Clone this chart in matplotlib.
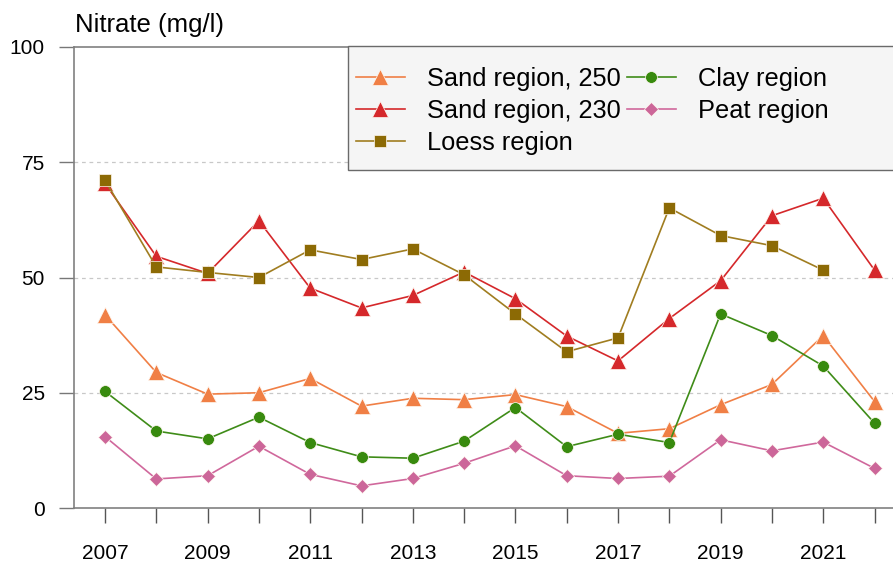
import numpy as np
import matplotlib.pyplot as plt
from matplotlib.patches import Rectangle

plt.rcParams['font.family'] = ['Liberation Sans', 'DejaVu Sans']

years = list(range(2007, 2023))
year_labels = [str(y) if y % 2 == 1 else "" for y in years]

sand250 = [41.9, 29.4, 24.7, 25.0, 28.1, 22.1, 23.8, 23.5, 24.6, 22.0, 16.2, 17.2, 22.4, 26.8, 37.4, 23.1]
sand230 = [70.4, 54.6, 50.9, 62.3, 47.7, 43.4, 46.1, 51.2, 45.4, 37.3, 31.9, 41.1, 49.3, 63.4, 67.2, 51.6]
loess = [71.1, 52.3, 51.1, 50.0, 56.0, 53.9, 56.2, 50.6, 42.1, 33.9, 36.9, 65.1, 59.1, 56.9, 51.6, np.nan]
clay = [25.3, 16.7, 15.0, 19.7, 14.2, 11.1, 10.8, 14.5, 21.8, 13.3, 16.0, 14.2, 42.1, 37.4, 30.8, 18.4]
peat = [15.5, 6.3, 7.0, 13.4, 7.3, 4.8, 6.4, 9.7, 13.5, 7.0, 6.4, 6.9, 14.8, 12.4, 14.3, 8.6]

W, H = 893, 564
fig = plt.figure(figsize=(W / 100, H / 100), dpi=100)
ax = fig.add_axes([74 / W, 1 - 508 / H, (W - 74) / W, (508 - 47) / H])

# series: (values, label, line colour, marker colour, marker, size)
series = [
    (sand250, "Sand region, 250", "#f07f45", "#f07f45", "^", 11),
    (sand230, "Sand region, 230", "#d5282b", "#d5282b", "^", 11),
    (loess, "Loess region", "#a07d20", "#8c6a05", "s", 8.5),
    (clay, "Clay region", "#3f8c18", "#388a0e", "o", 8.5),
    (peat, "Peat region", "#d0689c", "#cc6699", "D", 7.5),
]
for vals, lab, lc, mc, mk, ms in series:
    ax.plot(years, vals, color=lc, lw=1.2, marker=mk, ms=ms, mfc=mc,
            mec="#fff8f0", mew=0.5, label=lab, zorder=3)

ax.set_xlim(2006.396, 2022.36)
ax.set_ylim(0, 100)

for v in [25, 50, 75]:
    ax.axhline(v, color="#c8c8c8", lw=0.9, ls=(0, (3, 3)), zorder=1)

ax.set_yticks([0, 25, 50, 75, 100])
ax.set_xticks(years)
ax.set_xticklabels(year_labels)
ax.tick_params(axis="y", length=11, width=1, color="#777777", pad=10, labelsize=15)
ax.tick_params(axis="x", length=11, width=1, color="#555555", pad=15, labelsize=15)

ax.spines["right"].set_visible(False)
for s in ["left", "top", "bottom"]:
    ax.spines[s].set_color("#808080")
    ax.spines[s].set_linewidth(1.2)

fig.text(75 / W, 1 - 25 / H, "Nitrate (mg/l)", fontsize=18.5, ha="left", va="center")

# legend box running off the right edge
box = Rectangle((348 / W, 1 - 170 / H), (905 - 348) / W, (170 - 46) / H,
                transform=fig.transFigure, facecolor="#f5f5f5",
                edgecolor="#6a6a6a", lw=1, zorder=4)
fig.add_artist(box)

handles, labels = ax.get_legend_handles_labels()
leg = fig.legend(handles, labels,
                 loc="upper left", bbox_to_anchor=(343 / W, 1 - 54 / H),
                 ncol=2, frameon=False, fontsize=18.3, borderpad=0,
                 handlelength=1.92, handletextpad=0.9, columnspacing=0.22,
                 labelspacing=0.32)
leg.set_zorder(6)

fig.savefig("out.png", dpi=100)
